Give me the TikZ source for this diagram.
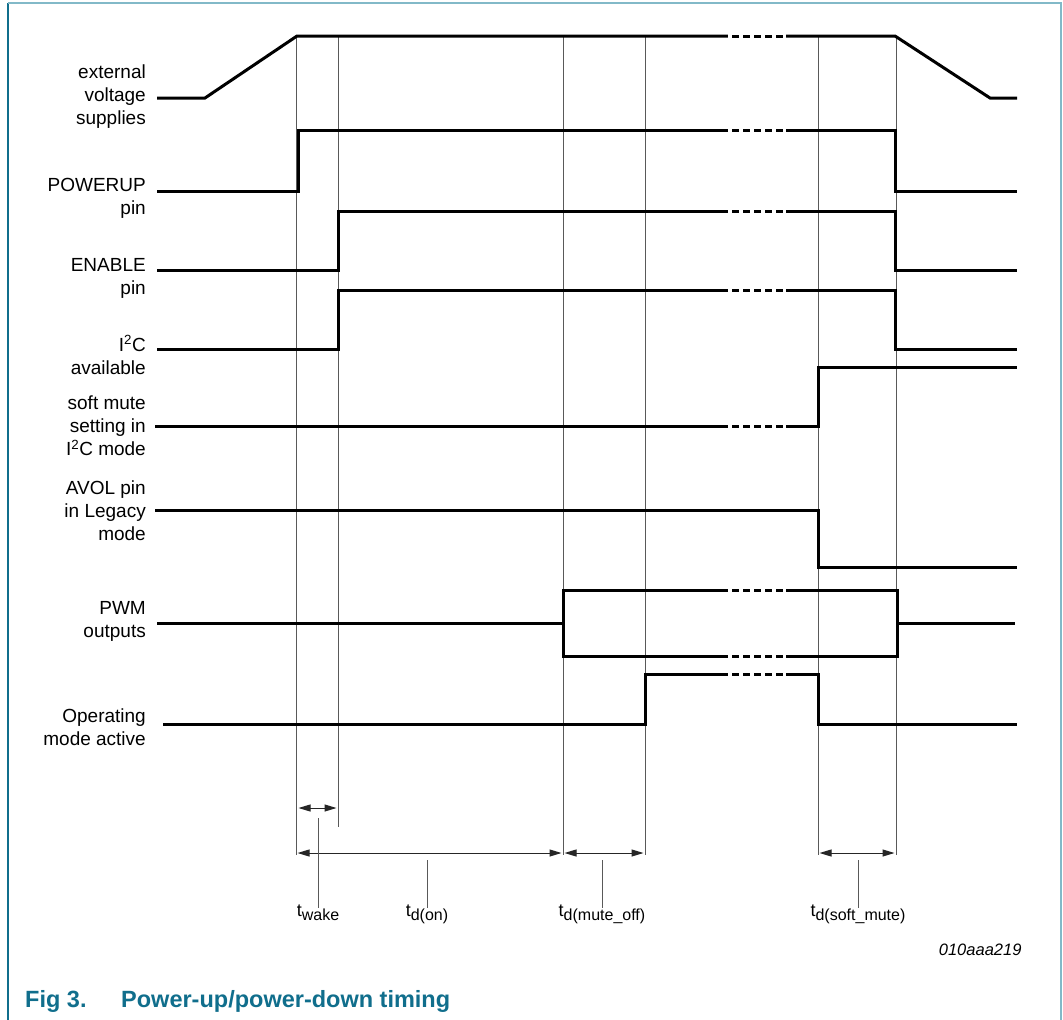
\documentclass[tikz,border=0pt]{standalone}
\usepackage{fontspec}
\setmainfont{Liberation Sans}
\usetikzlibrary{arrows.meta}

\definecolor{capteal}{RGB}{16,110,140}
\definecolor{frameteal}{RGB}{130,185,200}
\newcommand{\tlabel}[1]{t\raisebox{-4pt}{\fontsize{16}{16}\selectfont #1}}

\begin{document}
\begin{tikzpicture}[x=1pt, y=-1pt,
    >={Triangle[length=12pt, width=7pt]},
    sig/.style={line width=3pt},
    grid/.style={line width=1pt, black!65},
    dimarrow/.style={line width=1pt, black!85, <->, shorten <=1.5pt, shorten >=1.5pt},
    lab/.style={anchor=east, align=right, inner sep=0pt,
                font=\fontsize{19}{23}\selectfont},
    tlab/.style={anchor=north, inner sep=1pt, font=\fontsize{18}{20}\selectfont}]
  \useasboundingbox (0,0) rectangle (1063,1020);
  % frame
  \draw[capteal, line width=2pt] (8,1020) -- (8,3);
  \draw[frameteal, line width=2pt] (8,3) -- (1061,3) -- (1061,1020);

  % timing grid
  \coordinate (gA) at (296,853);
  \coordinate (gC) at (563,853);
  \coordinate (gD) at (645,853);
  \coordinate (gE) at (818,853);
  \coordinate (gF) at (896,853);
  \foreach \x/\yb in {296/855, 338/827, 563/855, 645/855, 818/855, 896/855}
    \draw[grid] (\x,36) -- (\x,\yb);

  % signal names
  \node[lab] (lext) at (146, 97)  {external\\voltage\\supplies};
  \node[lab] (lpwr) at (146, 198) {POWERUP\\pin};
  \node[lab] (lena) at (146, 278) {ENABLE\\pin};
  \node[lab] (lic)  at (146, 355) {I\textsuperscript{2}C\\available};
  \node[lab] (lsm)  at (146, 426) {soft mute\\setting in\\I\textsuperscript{2}C mode};
  \node[lab] (lvol) at (146, 511) {AVOL pin\\in Legacy\\mode};
  \node[lab] (lpwm) at (146, 621) {PWM\\outputs};
  \node[lab] (lop)  at (146, 727) {Operating\\mode active};

  % waveforms
  \draw[sig] (157,98) -- (205,98) -- (297,36) -- (895,36) -- (990,98) -- (1017,98);
  \draw[sig] (157,191) -- (298,191) -- (298,130) -- (895,130) -- (895,191) -- (1017,191);
  \draw[sig] (157,270) -- (338,270) -- (338,211) -- (895,211) -- (895,270) -- (1017,270);
  \draw[sig] (157,349) -- (338,349) -- (338,290) -- (895,290) -- (895,349) -- (1017,349);
  \draw[sig] (155,426) -- (818,426) -- (818,367) -- (1017,367);
  \draw[sig] (155,510) -- (818,510) -- (818,567) -- (1017,567);
  \draw[sig] (157,623) -- (563,623);
  \draw[sig] (563,590) rectangle (897,656);
  \draw[sig] (897,623) -- (1015,623);
  \draw[sig] (163,724) -- (645,724) -- (645,674) -- (818,674) -- (818,724) -- (1017,724);
  \foreach \y in {36, 130, 211, 290, 426, 590, 656, 674}{
    \fill[white] (728,\y-3) rectangle (786,\y+3);
    \draw[sig, dash pattern=on 7pt off 4pt] (732,\y) -- (786,\y);
  }

  % delays
  \coordinate (w1) at (297,808);
  \coordinate (w2) at (338,808);
  \draw[dimarrow] (w1) -- (w2);
  \draw[dimarrow] (gA) -- (gC);
  \draw[dimarrow] (gC) -- (gD);
  \draw[dimarrow] (gE) -- (gF);
  \node[tlab] (twake)  at (318, 904) {\tlabel{wake}};
  \node[tlab] (ton)    at (427, 904) {\tlabel{d(on)}};
  \node[tlab] (tmoff)  at (602, 904) {\tlabel{d(mute\_off)}};
  \node[tlab] (tsmute) at (858, 904) {\tlabel{d(soft\_mute)}};
  \coordinate (lwake)  at (318, 818);
  \coordinate (lon)    at (427, 860);
  \coordinate (lmoff)  at (602, 860);
  \coordinate (lsmute) at (858, 860);
  \draw[grid] (lwake) -- ([yshift=-4pt]twake.north);
  \draw[grid] (lon) -- ([yshift=-4pt]ton.north);
  \draw[grid] (lmoff) -- ([yshift=-4pt]tmoff.north);
  \draw[grid] (lsmute) -- ([yshift=-4pt]tsmute.north);

  \node[anchor=east, font=\fontsize{16.5}{18}\selectfont\itshape] (code) at (1025,950) {010aaa219};
  \node[anchor=base west, inner sep=0pt, text=capteal,
        font=\fontsize{23.5}{26}\selectfont\bfseries] (fig) at (25,1007) {Fig 3.};
  \node[anchor=base west, inner sep=0pt, text=capteal,
        font=\fontsize{23.5}{26}\selectfont\bfseries] (cap) at (121,1007) {Power-up/power-down timing};
\end{tikzpicture}
\end{document}
